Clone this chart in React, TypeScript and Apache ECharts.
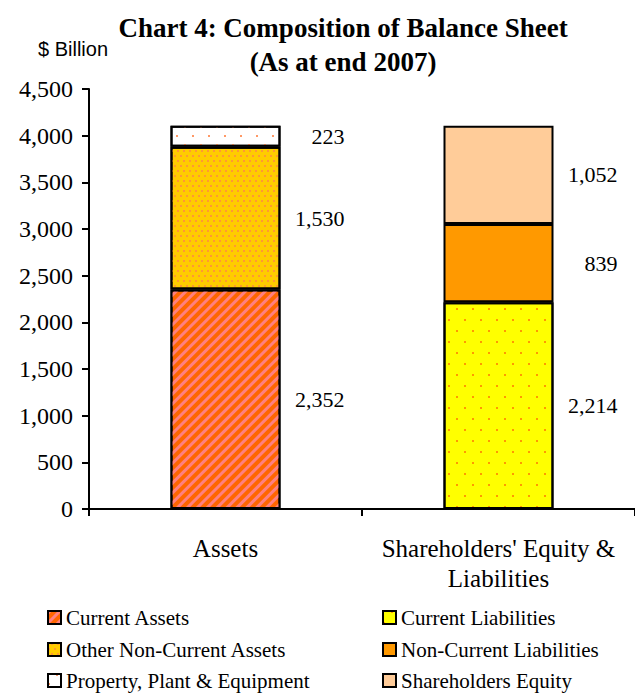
import React, { useEffect, useRef } from "react";
import * as echarts from "echarts";

const categories = ["Assets", "Shareholders' Equity &\nLiabilities"];
const currentAssets = [2352, null];
const otherNonCurrentAssets = [1530, null];
const ppe = [223, null];
const currentLiabilities = [null, 2214];
const nonCurrentLiabilities = [null, 839];
const shareholdersEquity = [null, 1052];
const yTicks = { min: 0, max: 4500, interval: 500 };
const legendLeft = ["Current Assets", "Other Non-Current Assets", "Property, Plant & Equipment"];
const legendRight = ["Current Liabilities", "Non-Current Liabilities", "Shareholders Equity"];

const SERIF = "Liberation Serif";

export default function App() {
  const ref = useRef<HTMLDivElement>(null);
  useEffect(() => {
    const chart = echarts.init(ref.current!, null, { renderer: "svg" });
    const lab = {
      show: true,
      position: "right",
      align: "right",
      distance: 64,
      fontFamily: SERIF,
      fontSize: 22,
      color: "#000",
      formatter: (p: any) => Number(p.value).toLocaleString("en-US"),
    };
    const mk = (name: string, data: any[], color: string, decal?: any) => ({
      name,
      type: "bar",
      stack: "s",
      barWidth: 110,
      data: data.map((v) => (v == null ? "-" : v)),
      itemStyle: {
        color,
        borderColor: "#000",
        borderWidth: 2,
        decal: decal,
      },
      label: lab,
    });
    const legendText = { fontFamily: SERIF, fontSize: 21, color: "#000" };
    const rowTops = [607, 639, 670];
    const legends: any[] = [];
    legendLeft.forEach((n, i) =>
      legends.push({
        left: 47,
        top: rowTops[i],
        padding: 0,
        itemWidth: 13,
        itemHeight: 13,
        icon: "rect",
        textStyle: legendText,
        data: [n],
      })
    );
    legendRight.forEach((n, i) =>
      legends.push({
        left: 382,
        top: rowTops[i],
        padding: 0,
        itemWidth: 13,
        itemHeight: 13,
        icon: "rect",
        textStyle: legendText,
        data: [n],
      })
    );
    chart.setOption({
      animation: false,
      title: {
        text: "Chart 4: Composition of Balance Sheet\n(As at end 2007)",
        left: 343,
        top: 11,
        textAlign: "center",
        padding: 0,
        textStyle: {
          fontFamily: SERIF,
          fontSize: 27,
          fontWeight: "bold",
          color: "#000",
          lineHeight: 34,
        },
      },
      graphic: [
        {
          type: "text",
          left: 38,
          top: 39,
          style: {
            text: "$ Billion",
            fontFamily: "Liberation Sans",
            fontSize: 20,
            fill: "#000",
          },
        },
      ],
      legend: legends,
      grid: { left: 89, right: 0, top: 89, bottom: 184, containLabel: false },
      xAxis: {
        type: "category",
        data: categories,
        axisLine: { lineStyle: { color: "#000", width: 2 } },
        axisTick: { show: true, length: 7, lineStyle: { color: "#000", width: 2 } },
        axisLabel: {
          fontFamily: SERIF,
          fontSize: 25,
          color: "#000",
          margin: 24,
          lineHeight: 30,
          interval: 0,
        },
      },
      yAxis: {
        type: "value",
        min: yTicks.min,
        max: yTicks.max,
        interval: yTicks.interval,
        splitLine: { show: false },
        axisLine: { show: true, lineStyle: { color: "#000", width: 2 } },
        axisTick: { show: true, length: 7, lineStyle: { color: "#000", width: 2 } },
        axisLabel: {
          fontFamily: SERIF,
          fontSize: 24,
          color: "#000",
          margin: 16,
          formatter: (v: number) => v.toLocaleString("en-US"),
        },
      },
      series: [
        mk("Current Assets", currentAssets, "#FF6600", {
          symbol: "rect",
          symbolSize: 1,
          color: "#FF8080",
          dashArrayX: [1, 0],
          dashArrayY: [3, 4],
          rotation: -Math.PI / 4,
        }),
        mk("Other Non-Current Assets", otherNonCurrentAssets, "#FFCC00", {
          symbol: "rect",
          symbolSize: 1,
          color: "#FF9933",
          dashArrayX: [
            [2, 4],
            [0, 3, 2, 1],
          ],
          dashArrayY: [2, 3],
          rotation: 0,
        }),
        mk("Property, Plant & Equipment", ppe, "#FFFFFF", {
          symbol: "rect",
          symbolSize: 1,
          color: "#FF9966",
          dashArrayX: [
            [2, 14],
            [0, 8, 2, 6],
          ],
          dashArrayY: [2, 7],
          rotation: 0,
        }),
        mk("Current Liabilities", currentLiabilities, "#FFFF00", {
          symbol: "rect",
          symbolSize: 1,
          color: "#FF9900",
          dashArrayX: [
            [2, 14],
            [0, 8, 2, 6],
          ],
          dashArrayY: [2, 9],
          rotation: 0,
        }),
        mk("Non-Current Liabilities", nonCurrentLiabilities, "#FF9900"),
        mk("Shareholders Equity", shareholdersEquity, "#FFCC99"),
      ],
    });
    return () => chart.dispose();
  }, []);
  return (
    <div
      ref={ref}
      style={{ position: "fixed", left: 0, top: 0, width: 635, height: 693, background: "#fff" }}
    />
  );
}
